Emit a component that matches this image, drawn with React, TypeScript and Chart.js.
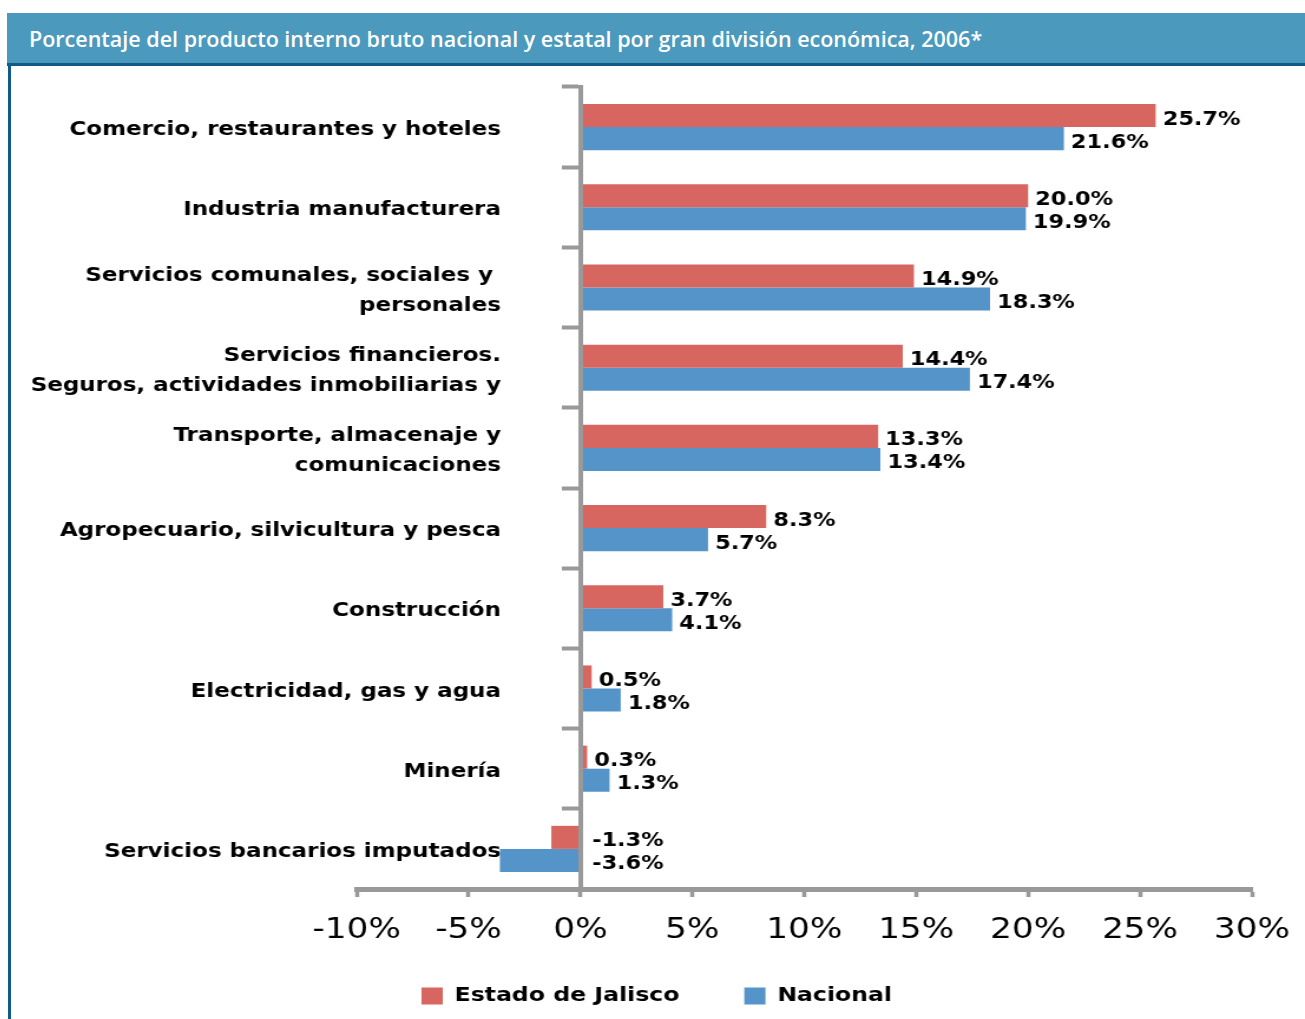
import React, { useEffect, useRef } from 'react';
import { Chart, registerables } from 'chart.js';

Chart.register(...registerables);

const title = 'Porcentaje del producto interno bruto nacional y estatal por gran división económica, 2006*';

const categories: (string | string[])[] = [
  'Comercio, restaurantes y hoteles',
  'Industria manufacturera',
  ['Servicios comunales, sociales y ', 'personales'],
  ['Servicios financieros.', 'Seguros, actividades inmobiliarias y'],
  ['Transporte, almacenaje y', 'comunicaciones'],
  'Agropecuario, silvicultura y pesca',
  'Construcción',
  'Electricidad, gas y agua',
  'Minería',
  'Servicios bancarios imputados',
];
const seriesNames = ['Estado de Jalisco', 'Nacional'];
const jalisco = [25.7, 20.0, 14.9, 14.4, 13.3, 8.3, 3.7, 0.5, 0.3, -1.3];
const nacional = [21.6, 19.9, 18.3, 17.4, 13.4, 5.7, 4.1, 1.8, 1.3, -3.6];
const xMin = -10;
const xMax = 30;
const xStep = 5;

const RED = '#d6665f';
const BLUE = '#5594c8';
const GRAY = '#999999';
const FONT = '"DejaVu Sans", Verdana, sans-serif';

const SX = 1.18; // horizontal stretch of the drawing
const DISPLAY_W = 1294;
const DISPLAY_H = 953;
const CANVAS_W = Math.round(DISPLAY_W / SX);
const CANVAS_H = DISPLAY_H;

const valueLabels = {
  id: 'valueLabels',
  afterDatasetsDraw(chart: any) {
    const ctx = chart.ctx;
    const zero = chart.scales.x.getPixelForValue(0);
    ctx.save();
    ctx.font = `bold 19px ${FONT}`;
    ctx.fillStyle = '#000';
    ctx.textBaseline = 'middle';
    ctx.textAlign = 'left';
    chart.data.datasets.forEach((ds: any, di: number) => {
      const meta = chart.getDatasetMeta(di);
      meta.data.forEach((bar: any, i: number) => {
        const v = ds.data[i] as number;
        const x = v >= 0 ? bar.x + 6 : zero + 10;
        ctx.fillText(v.toFixed(1) + '%', x, bar.y + 4);
      });
    });
    ctx.restore();
  },
};

export default function App() {
  const ref = useRef<HTMLCanvasElement | null>(null);

  useEffect(() => {
    if (!ref.current) return;
    const chart = new Chart(ref.current, {
      type: 'bar',
      data: {
        labels: categories,
        datasets: [
          {
            label: seriesNames[0],
            data: jalisco,
            backgroundColor: RED,
            borderWidth: 0,
            barPercentage: 1,
            categoryPercentage: 0.575,
          },
          {
            label: seriesNames[1],
            data: nacional,
            backgroundColor: BLUE,
            borderWidth: 0,
            barPercentage: 1,
            categoryPercentage: 0.575,
          },
        ],
      },
      options: {
        indexAxis: 'y',
        responsive: false,
        animation: false,
        devicePixelRatio: 1,
        layout: { padding: { left: 293, right: 45, top: 21, bottom: 3 } },
        scales: {
          x: {
            type: 'linear',
            position: 'bottom',
            min: xMin,
            max: xMax,
            afterFit: (scale: any) => {
              scale.height = 42;
              scale._computeLabelArea = () => undefined;
            },
            ticks: {
              stepSize: xStep,
              padding: 12,
              color: '#000',
              font: { family: FONT, size: 29, weight: 'normal', lineHeight: 1.5 },
              callback: (v: any) => `${v}%`,
            },
            grid: {
              drawOnChartArea: false,
              drawTicks: true,
              tickLength: 8,
              tickWidth: 3.5,
              tickColor: GRAY,
            },
            border: { display: true, color: GRAY, width: 5, z: 1 },
          },
          // category labels, placed just left of the negative bars
          y: {
            type: 'category',
            axis: 'y',
            offset: true,
            position: { x: -3.55 } as any,
            ticks: {
              padding: 0,
              labelOffset: 3,
              color: '#000',
              font: { family: FONT, size: 19.5, weight: 'bold', lineHeight: 1.54 },
            },
            grid: { display: false, offset: true },
            border: { display: false },
          },
          // the axis line with its tick marks at zero
          yZero: {
            type: 'category',
            axis: 'y',
            offset: true,
            position: { x: 0 } as any,
            ticks: { display: false, padding: 0 },
            grid: {
              offset: true,
              drawOnChartArea: false,
              drawTicks: true,
              tickLength: 14,
              tickWidth: 4,
              tickColor: GRAY,
            },
            border: { display: true, color: GRAY, width: 4, z: 1 },
          },
        },
        plugins: {
          legend: {
            position: 'bottom',
            align: 'start',
            labels: {
              boxWidth: 18,
              boxHeight: 17,
              padding: 55,
              color: '#000',
              font: { family: FONT, size: 20, weight: 'bold' },
            },
          },
          title: { display: false },
          tooltip: { enabled: false },
        },
      } as any,
      plugins: [valueLabels],
    });
    return () => chart.destroy();
  }, []);

  return (
    <div
      style={{
        position: 'absolute',
        left: 0,
        top: 0,
        width: 1305,
        height: 1019,
        overflow: 'hidden',
        background: '#ffffff',
      }}
    >
      <div
        style={{
          position: 'absolute',
          left: 7,
          top: 13,
          width: 1276,
          height: 50,
          background: '#4b9abe',
          borderBottom: '3px solid #0e5b88',
          color: '#ffffff',
          fontFamily: '"Open Sans", "Noto Sans", sans-serif',
          fontWeight: 600,
          fontSize: 21.5,
          lineHeight: '52px',
          paddingLeft: 22,
          boxSizing: 'content-box',
          whiteSpace: 'nowrap',
        }}
      >
        {title}
      </div>
      <div
        style={{
          position: 'absolute',
          left: 8,
          top: 66,
          width: 3,
          height: 953,
          background: '#0e5b88',
        }}
      />
      <canvas
        ref={ref}
        width={CANVAS_W}
        height={CANVAS_H}
        style={{
          position: 'absolute',
          left: 11,
          top: 66,
          width: DISPLAY_W,
          height: DISPLAY_H,
        }}
      />
    </div>
  );
}
